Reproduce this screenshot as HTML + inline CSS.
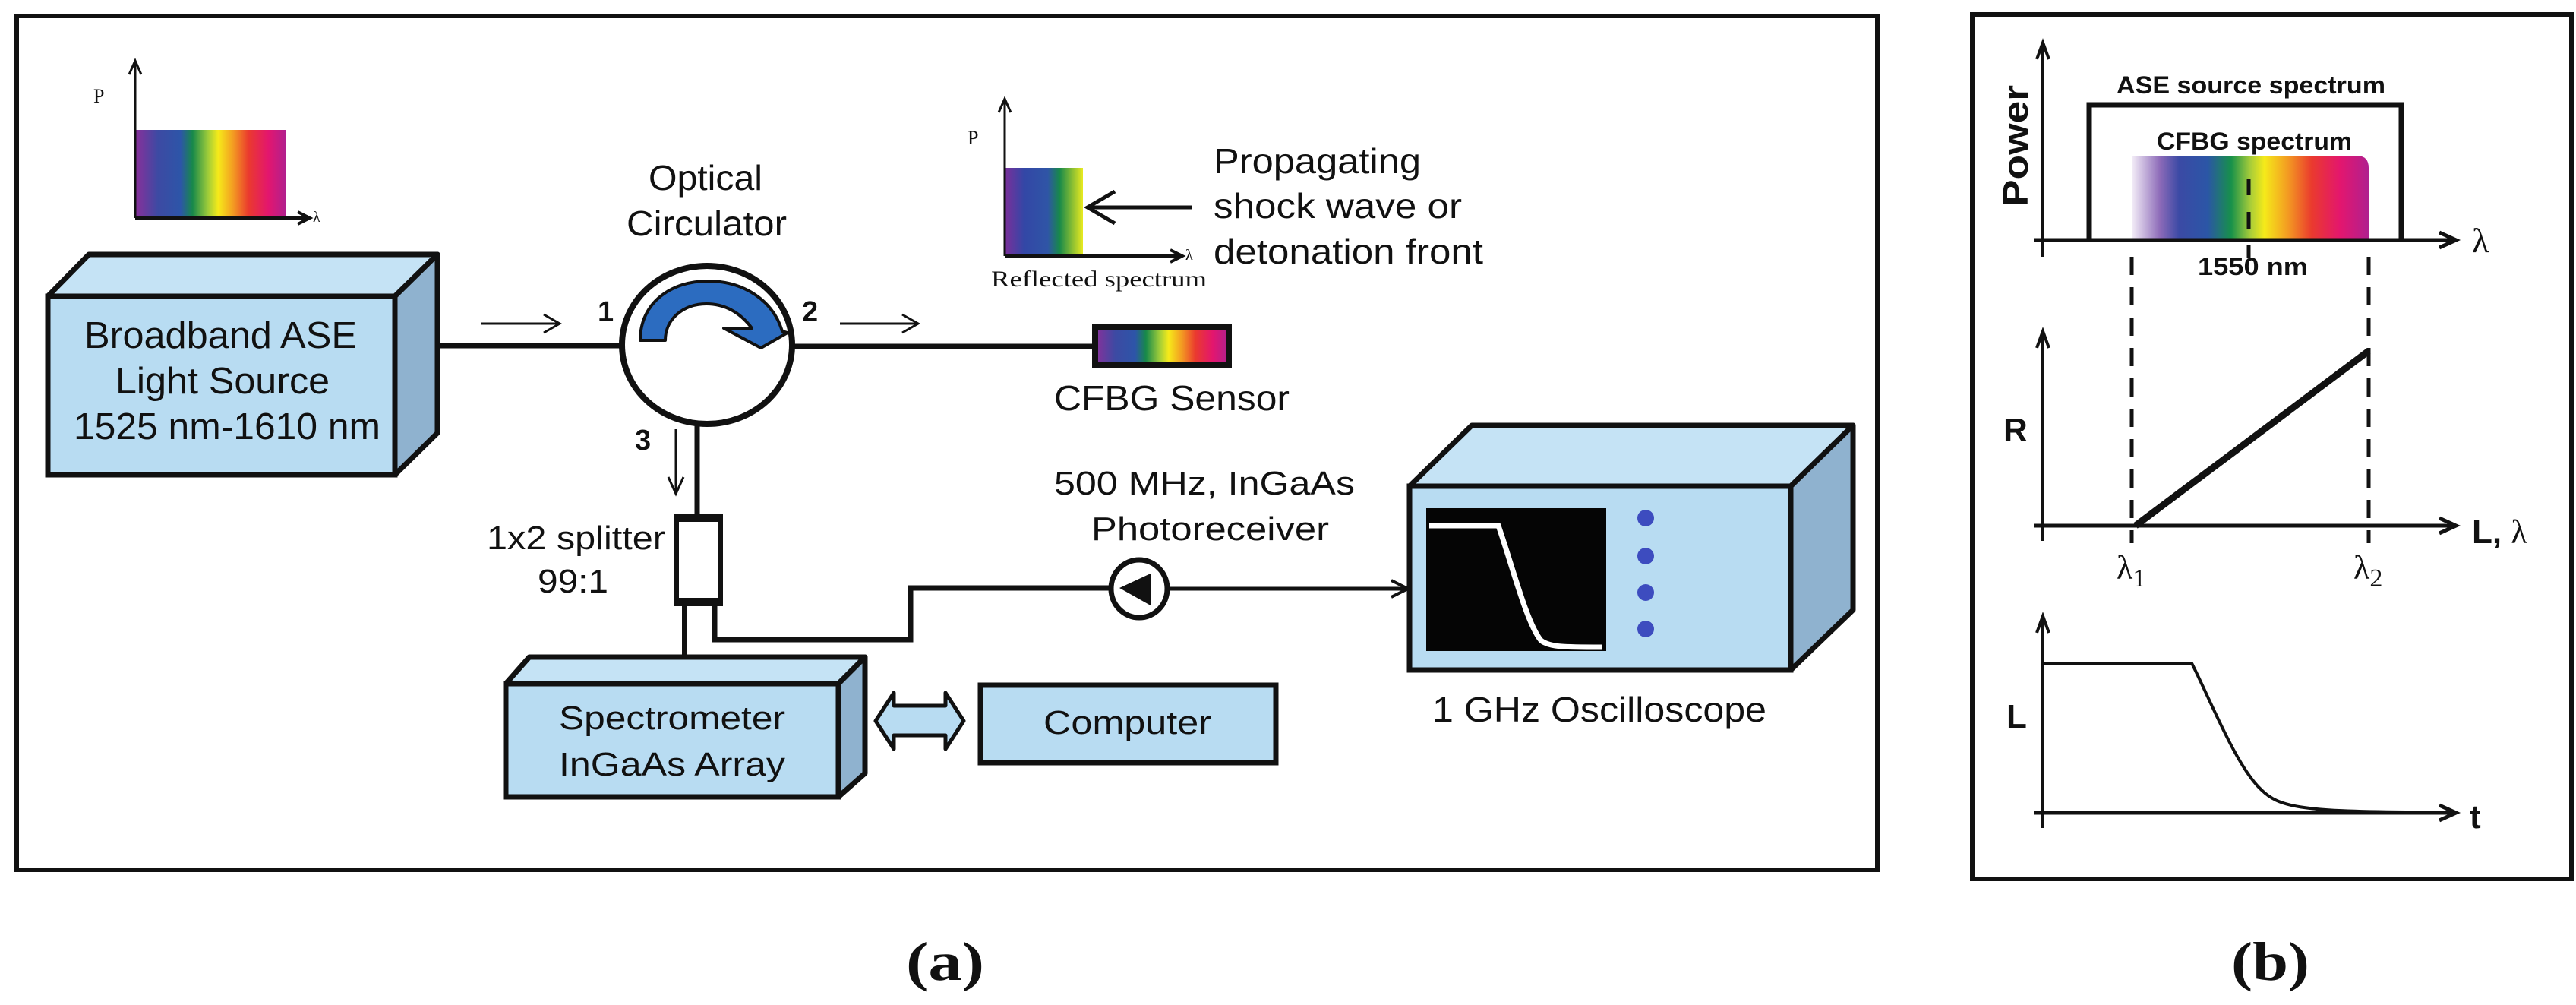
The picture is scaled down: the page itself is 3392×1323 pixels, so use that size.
<!DOCTYPE html>
<html><head><meta charset="utf-8"><style>
html,body{margin:0;padding:0;background:#fff;}
svg{display:block;}
text{font-family:"Liberation Sans",Arial,sans-serif;fill:#111;}
.b{font-weight:bold;}
.sr{font-family:"Liberation Serif",serif;}
</style></head><body>
<svg width="3392" height="1323" viewBox="0 0 3392 1323" xmlns="http://www.w3.org/2000/svg">
<defs>
<linearGradient id="rb" x1="0" x2="1" y1="0" y2="0">
<stop offset="0" stop-color="#8a2f9a"/><stop offset="0.15" stop-color="#3d4aa3"/><stop offset="0.3" stop-color="#2d55a8"/>
<stop offset="0.38" stop-color="#17894a"/><stop offset="0.48" stop-color="#9ccb3a"/><stop offset="0.55" stop-color="#f6ea1a"/>
<stop offset="0.65" stop-color="#f39a22"/><stop offset="0.75" stop-color="#ea3a2e"/><stop offset="0.88" stop-color="#e3166e"/><stop offset="1" stop-color="#b0208f"/>
</linearGradient>
<linearGradient id="rb2" x1="0" x2="1" y1="0" y2="0">
<stop offset="0" stop-color="#f4eef8"/><stop offset="0.12" stop-color="#8c6ab8"/><stop offset="0.2" stop-color="#3b4aa5"/><stop offset="0.32" stop-color="#2b56a6"/>
<stop offset="0.42" stop-color="#17914a"/><stop offset="0.5" stop-color="#a6cc3a"/><stop offset="0.56" stop-color="#f5ea1a"/>
<stop offset="0.66" stop-color="#f39a22"/><stop offset="0.76" stop-color="#ea3a2e"/><stop offset="0.88" stop-color="#e3166e"/><stop offset="1" stop-color="#b0208f"/>
</linearGradient>
<linearGradient id="rb3" x1="0" x2="1" y1="0" y2="0">
<stop offset="0" stop-color="#7a2f9a"/><stop offset="0.25" stop-color="#3347a6"/><stop offset="0.55" stop-color="#2f55a6"/>
<stop offset="0.7" stop-color="#17894a"/><stop offset="1" stop-color="#e8ea20"/>
</linearGradient>
</defs>

<!-- frames -->
<rect x="22" y="21" width="2450" height="1124" fill="none" stroke="#111" stroke-width="6"/>
<rect x="2597" y="19" width="789" height="1138" fill="none" stroke="#111" stroke-width="6"/>

<!-- top-left spectrum -->
<rect x="178" y="171" width="199" height="116" fill="url(#rb)"/>
<path d="M178,287 V82 M170,98 L178,80 L186,98" fill="none" stroke="#111" stroke-width="3"/>
<path d="M178,287 H406 M392,279 L408,287 L392,295" fill="none" stroke="#111" stroke-width="4"/>
<text x="123" y="135" class="sr" font-size="26">P</text>
<text x="412" y="292" class="sr" font-size="20">λ</text>

<!-- ASE box -->
<polygon points="63,390 117,335 576,335 520,390" fill="#c5e3f5" stroke="#111" stroke-width="7" stroke-linejoin="round"/>
<polygon points="520,390 576,335 576,570 520,625" fill="#8fb2cf" stroke="#111" stroke-width="7" stroke-linejoin="round"/>
<rect x="63" y="390" width="457" height="235" fill="#b8dcf2" stroke="#111" stroke-width="7"/>
<text x="111" y="458" font-size="49" textLength="359" lengthAdjust="spacingAndGlyphs">Broadband ASE</text>
<text x="152" y="518" font-size="49" textLength="282" lengthAdjust="spacingAndGlyphs">Light Source</text>
<text x="97" y="578" font-size="49" textLength="404" lengthAdjust="spacingAndGlyphs">1525 nm-1610 nm</text>

<!-- lines -->
<line x1="576" y1="455" x2="820" y2="455" stroke="#111" stroke-width="7"/>
<line x1="1043" y1="456" x2="1440" y2="456" stroke="#111" stroke-width="7"/>
<path d="M634,426 H735 M716,414 L737,426 L716,438" fill="none" stroke="#111" stroke-width="3"/>
<path d="M1106,426 H1207 M1188,414 L1209,426 L1188,438" fill="none" stroke="#111" stroke-width="3"/>
<text x="787" y="423" class="b" font-size="38">1</text>
<text x="1056" y="423" class="b" font-size="38">2</text>
<text x="836" y="592" class="b" font-size="38">3</text>

<!-- circulator -->
<text x="854" y="250" font-size="46" textLength="150" lengthAdjust="spacingAndGlyphs">Optical</text>
<text x="825" y="310" font-size="46" textLength="211" lengthAdjust="spacingAndGlyphs">Circulator</text>
<ellipse cx="931" cy="454" rx="112" ry="104" fill="#fff" stroke="#111" stroke-width="8"/>
<path d="M843,448 C843,398 884,370 932,370 C980,370 1018,396 1030,436 L1037,438 L1002,458 L953,432 L990,432 C975,412 955,400 930,400 C900,400 876,420 876,448 Z" fill="#2c6cc0" stroke="#111" stroke-width="4" stroke-linejoin="round"/>

<!-- port 3 -->
<line x1="918" y1="560" x2="918" y2="680" stroke="#111" stroke-width="7"/>
<path d="M890,565 V648 M880,628 L890,650 L900,628" fill="none" stroke="#111" stroke-width="3"/>

<!-- reflected spectrum -->
<rect x="1323" y="221" width="103" height="116" fill="url(#rb3)"/>
<path d="M1323,337 V132 M1315,148 L1323,130 L1331,148" fill="none" stroke="#111" stroke-width="3"/>
<path d="M1323,337 H1555 M1541,329 L1557,337 L1541,345" fill="none" stroke="#111" stroke-width="4"/>
<text x="1274" y="190" class="sr" font-size="26">P</text>
<text x="1561" y="342" class="sr" font-size="20">λ</text>
<text x="1305" y="377" class="sr" font-size="30" textLength="284" lengthAdjust="spacingAndGlyphs">Reflected spectrum</text>
<path d="M1570,273 H1432 M1468,252 L1432,273 L1468,294" fill="none" stroke="#111" stroke-width="5"/>
<text x="1598" y="228" font-size="46" textLength="273" lengthAdjust="spacingAndGlyphs">Propagating</text>
<text x="1598" y="287" font-size="46" textLength="327" lengthAdjust="spacingAndGlyphs">shock wave or</text>
<text x="1598" y="347" font-size="46" textLength="355" lengthAdjust="spacingAndGlyphs">detonation front</text>

<!-- CFBG sensor -->
<rect x="1442" y="430" width="176" height="51" fill="url(#rb)" stroke="#111" stroke-width="8"/>
<text x="1388" y="540" font-size="46" textLength="310" lengthAdjust="spacingAndGlyphs">CFBG Sensor</text>

<!-- splitter -->
<rect x="891" y="679" width="58" height="116" fill="#fff" stroke="#111" stroke-width="6"/>
<rect x="891" y="679" width="58" height="8" fill="#111"/>
<rect x="891" y="787" width="58" height="8" fill="#111"/>
<text x="641" y="723" font-size="44" textLength="235" lengthAdjust="spacingAndGlyphs">1x2 splitter</text>
<text x="708" y="780" font-size="44" textLength="93" lengthAdjust="spacingAndGlyphs">99:1</text>
<line x1="901" y1="795" x2="901" y2="866" stroke="#111" stroke-width="6"/>
<path d="M941,795 V842 H1199 V774 H1465" fill="none" stroke="#111" stroke-width="7"/>
<line x1="1537" y1="775" x2="1850" y2="775" stroke="#111" stroke-width="5"/>
<path d="M1832,764 L1854,775 L1832,786" fill="none" stroke="#111" stroke-width="4"/>
<ellipse cx="1500" cy="775" rx="37" ry="38" fill="#fff" stroke="#111" stroke-width="7"/>
<polygon points="1474,774 1515,755 1515,797" fill="#111"/>
<text x="1388" y="651" font-size="44" textLength="396" lengthAdjust="spacingAndGlyphs">500 MHz, InGaAs</text>
<text x="1437" y="711" font-size="44" textLength="313" lengthAdjust="spacingAndGlyphs">Photoreceiver</text>

<!-- spectrometer -->
<polygon points="666,900 697,865 1139,865 1104,900" fill="#c5e3f5" stroke="#111" stroke-width="7" stroke-linejoin="round"/>
<polygon points="1104,900 1139,865 1139,1018 1104,1049" fill="#8fb2cf" stroke="#111" stroke-width="7" stroke-linejoin="round"/>
<rect x="666" y="900" width="438" height="149" fill="#b8dcf2" stroke="#111" stroke-width="7"/>
<text x="736" y="960" font-size="44" textLength="298" lengthAdjust="spacingAndGlyphs">Spectrometer</text>
<text x="736" y="1021" font-size="44" textLength="298" lengthAdjust="spacingAndGlyphs">InGaAs Array</text>

<!-- double arrow -->
<polygon points="1153,949 1177,912 1177,929 1245,929 1245,912 1269,949 1245,986 1245,968 1177,968 1177,986" fill="#b8dcf2" stroke="#111" stroke-width="5" stroke-linejoin="round"/>

<!-- computer -->
<rect x="1291" y="902" width="389" height="102" fill="#b8dcf2" stroke="#111" stroke-width="7"/>
<text x="1374" y="966" font-size="44" textLength="221" lengthAdjust="spacingAndGlyphs">Computer</text>

<!-- oscilloscope -->
<polygon points="1856,640 1938,560 2440,560 2358,640" fill="#c5e3f5" stroke="#111" stroke-width="7" stroke-linejoin="round"/>
<polygon points="2358,640 2440,560 2440,803 2358,882" fill="#8fb2cf" stroke="#111" stroke-width="7" stroke-linejoin="round"/>
<rect x="1856" y="640" width="502" height="242" fill="#b8dcf2" stroke="#111" stroke-width="7"/>
<rect x="1878" y="669" width="237" height="188" fill="#050505"/>
<path d="M1882,692 H1973 C1990,740 2010,820 2029,843 C2040,852 2060,852 2109,852" fill="none" stroke="#fff" stroke-width="7"/>
<circle cx="2167" cy="682" r="11" fill="#3d4cbf"/>
<circle cx="2167" cy="732" r="11" fill="#3d4cbf"/>
<circle cx="2167" cy="780" r="11" fill="#3d4cbf"/>
<circle cx="2167" cy="828" r="11" fill="#3d4cbf"/>
<text x="1886" y="950" font-size="46" textLength="440" lengthAdjust="spacingAndGlyphs">1 GHz Oscilloscope</text>

<!-- (b) top graph -->
<path d="M2690,338 V60 M2682,78 L2690,56 L2698,78" fill="none" stroke="#111" stroke-width="4"/>
<path d="M2807,316 V205 H3103 Q3119,205 3119,221 V316 Z" fill="url(#rb2)"/>
<path d="M2678,316 H3230 M3212,306 L3234,316 L3212,326" fill="none" stroke="#111" stroke-width="5"/>
<path d="M2751,316 V138 H3162 V316" fill="none" stroke="#111" stroke-width="7"/>
<line x1="2961" y1="235" x2="2961" y2="340" stroke="#111" stroke-width="5" stroke-dasharray="22,22"/>
<text x="3255" y="332" class="sr" font-size="46">λ</text>
<text x="0" y="0" class="b" font-size="46" textLength="160" lengthAdjust="spacingAndGlyphs" transform="translate(2670,272) rotate(-90)">Power</text>
<text x="2787" y="123" class="b" font-size="32" textLength="354" lengthAdjust="spacingAndGlyphs">ASE source spectrum</text>
<text x="2840" y="197" class="b" font-size="32" textLength="257" lengthAdjust="spacingAndGlyphs">CFBG spectrum</text>
<text x="2894" y="362" class="b" font-size="32" textLength="145" lengthAdjust="spacingAndGlyphs">1550 nm</text>
<line x1="2807" y1="338" x2="2807" y2="715" stroke="#111" stroke-width="5" stroke-dasharray="24,16"/>
<line x1="3119" y1="338" x2="3119" y2="715" stroke="#111" stroke-width="5" stroke-dasharray="24,16"/>

<!-- middle graph -->
<path d="M2690,712 V440 M2682,458 L2690,436 L2698,458" fill="none" stroke="#111" stroke-width="4"/>
<path d="M2678,692 H3230 M3212,682 L3234,692 L3212,702" fill="none" stroke="#111" stroke-width="5"/>
<line x1="2812" y1="692" x2="3119" y2="462" stroke="#111" stroke-width="9"/>
<text x="2638" y="581" class="b" font-size="44">R</text>
<text x="3255" y="715" class="b" font-size="44">L, <tspan class="sr" font-weight="normal">λ</tspan></text>
<text x="2787" y="762" class="sr" font-size="44">λ<tspan font-size="34" dy="10">1</tspan></text>
<text x="3099" y="762" class="sr" font-size="44">λ<tspan font-size="34" dy="10">2</tspan></text>

<!-- bottom graph -->
<path d="M2690,1090 V815 M2682,833 L2690,811 L2698,833" fill="none" stroke="#111" stroke-width="4"/>
<path d="M2678,1070 H3230 M3212,1060 L3234,1070 L3212,1080" fill="none" stroke="#111" stroke-width="5"/>
<path d="M2690,873 H2886 C2910,920 2945,1010 2978,1040 C3000,1062 3030,1068 3168,1069" fill="none" stroke="#111" stroke-width="4"/>
<text x="2642" y="958" class="b" font-size="44">L</text>
<text x="3252" y="1090" class="b" font-size="44">t</text>

<!-- captions -->
<text x="1193" y="1290" class="sr b" font-size="72" textLength="103" lengthAdjust="spacingAndGlyphs">(a)</text>
<text x="2938" y="1290" class="sr b" font-size="72" textLength="103" lengthAdjust="spacingAndGlyphs">(b)</text>
</svg>
</body></html>
